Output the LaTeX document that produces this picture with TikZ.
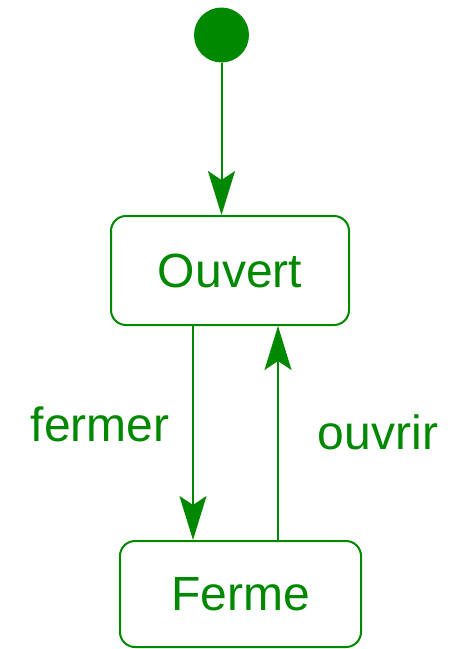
\documentclass[tikz,border=0pt]{standalone}
\usepackage{fontspec}
\setmainfont{Liberation Sans}
\usetikzlibrary{arrows.meta}
\definecolor{stgreen}{RGB}{0,136,0}
\tikzset{
  state/.style={draw=stgreen, line width=2pt, rounded corners=15pt, text=stgreen, font=\fontsize{48}{48}\selectfont},
  trans/.style={draw=stgreen, line width=2pt, -{Stealth[length=44pt, width=27pt, inset=9pt, fill=stgreen]}},
  lbl/.style={text=stgreen, font=\fontsize{48}{48}\selectfont, anchor=base}
}
\begin{document}
\begin{tikzpicture}[x=1pt, y=-1pt]
    \useasboundingbox (0,0) rectangle (457,649);
    \node[circle, fill=stgreen, minimum size=55pt, inner sep=0pt] (init) at (221.5,35) {};
    \node[state, minimum width=238pt, minimum height=109pt] (ouvert) at (230,270.5) {Ouvert};
    \node[state, minimum width=241pt, minimum height=106pt] (ferme) at (240.5,594) {Ferme};
    % transitions
    \draw[trans] (init) -- (init |- ouvert.north);
    \draw[trans] ([xshift=-37pt]ouvert.south) -- ([xshift=-37pt]ouvert.south |- ferme.north);
    \draw[trans] ([xshift=37.5pt]ferme.north) -- ([xshift=37.5pt]ferme.north |- ouvert.south);
    \node[lbl] (fermer) at (100,441) {fermer};
    \node[lbl] (ouvrir) at (378,449) {ouvrir};
\end{tikzpicture}
\end{document}
